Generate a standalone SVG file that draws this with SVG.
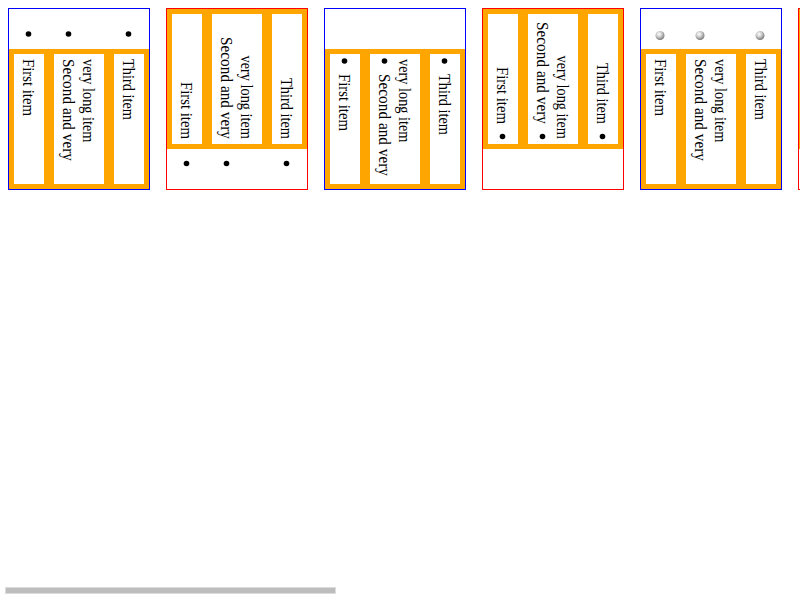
<svg xmlns="http://www.w3.org/2000/svg" width="800" height="600" viewBox="0 0 800 600">
  <style>
    .frame-b { fill: none; stroke: #0000ff; stroke-width: 1; }
    .frame-r { fill: none; stroke: #ff0000; stroke-width: 1; }
    .band { fill: #ffa500; }
    .item { fill: #ffffff; }
    .disc { fill: #000000; }
    .ball { fill: url(#ballGrad); }
    text { font-family: "Liberation Serif", "Times New Roman", serif; font-size: 16px; fill: #000000; }
    .end { text-anchor: end; }
  </style>
  <defs>
    <radialGradient id="ballGrad" cx="0.4" cy="0.35" r="0.65">
      <stop offset="0" stop-color="#ffffff"/>
      <stop offset="0.5" stop-color="#c8c8c8"/>
      <stop offset="1" stop-color="#7a7a7a"/>
    </radialGradient>
  </defs>
  <rect width="800" height="600" fill="#ffffff"/>

  <!-- list 1: markers outside, top -->
  <g id="list1">
    <rect class="band" x="9" y="49" width="140" height="140"/>
    <rect class="item" x="14" y="54" width="30" height="130"/>
    <rect class="item" x="54" y="54" width="50" height="130"/>
    <rect class="item" x="114" y="54" width="30" height="130"/>
    <circle class="disc" cx="28.5" cy="34" r="2.8"/>
    <circle class="disc" cx="68.5" cy="34" r="2.8"/>
    <circle class="disc" cx="128.5" cy="34" r="2.8"/>
    <text transform="translate(22.5,59) rotate(90)" textLength="57" lengthAdjust="spacingAndGlyphs">First item</text>
    <text transform="translate(62.5,59) rotate(90)" textLength="102" lengthAdjust="spacingAndGlyphs">Second and very</text>
    <text transform="translate(82.5,59) rotate(90)" textLength="83.5" lengthAdjust="spacingAndGlyphs">very long item</text>
    <text transform="translate(122.5,59) rotate(90)" textLength="61" lengthAdjust="spacingAndGlyphs">Third item</text>
    <rect class="frame-b" x="8.5" y="8.5" width="141" height="181"/>
  </g>

  <!-- list 2: markers outside, bottom -->
  <g id="list2">
    <rect class="band" x="167" y="9" width="140" height="140"/>
    <rect class="item" x="172" y="14" width="30" height="130"/>
    <rect class="item" x="212" y="14" width="50" height="130"/>
    <rect class="item" x="272" y="14" width="30" height="130"/>
    <circle class="disc" cx="186.5" cy="163.5" r="2.8"/>
    <circle class="disc" cx="226.5" cy="163.5" r="2.8"/>
    <circle class="disc" cx="286.5" cy="163.5" r="2.8"/>
    <text class="end" transform="translate(180.5,139) rotate(90)" textLength="57" lengthAdjust="spacingAndGlyphs">First item</text>
    <text class="end" transform="translate(220.5,139) rotate(90)" textLength="102" lengthAdjust="spacingAndGlyphs">Second and very</text>
    <text class="end" transform="translate(240.5,139) rotate(90)" textLength="83.5" lengthAdjust="spacingAndGlyphs">very long item</text>
    <text class="end" transform="translate(280.5,139) rotate(90)" textLength="61" lengthAdjust="spacingAndGlyphs">Third item</text>
    <rect class="frame-r" x="166.5" y="8.5" width="141" height="181"/>
  </g>

  <!-- list 3: markers inside, top -->
  <g id="list3">
    <rect class="band" x="325" y="49" width="140" height="140"/>
    <rect class="item" x="330" y="54" width="30" height="130"/>
    <rect class="item" x="370" y="54" width="50" height="130"/>
    <rect class="item" x="430" y="54" width="30" height="130"/>
    <circle class="disc" cx="344.5" cy="61" r="2.8"/>
    <circle class="disc" cx="384.5" cy="61" r="2.8"/>
    <circle class="disc" cx="444.5" cy="61" r="2.8"/>
    <text transform="translate(338.5,74) rotate(90)" textLength="57" lengthAdjust="spacingAndGlyphs">First item</text>
    <text transform="translate(378.5,74) rotate(90)" textLength="102" lengthAdjust="spacingAndGlyphs">Second and very</text>
    <text transform="translate(398.5,59) rotate(90)" textLength="83.5" lengthAdjust="spacingAndGlyphs">very long item</text>
    <text transform="translate(438.5,74) rotate(90)" textLength="61" lengthAdjust="spacingAndGlyphs">Third item</text>
    <rect class="frame-b" x="324.5" y="8.5" width="141" height="181"/>
  </g>

  <!-- list 4: markers inside, bottom -->
  <g id="list4">
    <rect class="band" x="483" y="9" width="140" height="140"/>
    <rect class="item" x="488" y="14" width="30" height="130"/>
    <rect class="item" x="528" y="14" width="50" height="130"/>
    <rect class="item" x="588" y="14" width="30" height="130"/>
    <circle class="disc" cx="502.5" cy="136.5" r="2.8"/>
    <circle class="disc" cx="542.5" cy="136.5" r="2.8"/>
    <circle class="disc" cx="602.5" cy="136.5" r="2.8"/>
    <text class="end" transform="translate(496.5,124) rotate(90)" textLength="57" lengthAdjust="spacingAndGlyphs">First item</text>
    <text class="end" transform="translate(536.5,124) rotate(90)" textLength="102" lengthAdjust="spacingAndGlyphs">Second and very</text>
    <text class="end" transform="translate(556.5,139) rotate(90)" textLength="83.5" lengthAdjust="spacingAndGlyphs">very long item</text>
    <text class="end" transform="translate(596.5,124) rotate(90)" textLength="61" lengthAdjust="spacingAndGlyphs">Third item</text>
    <rect class="frame-r" x="482.5" y="8.5" width="141" height="181"/>
  </g>

  <!-- list 5: image markers outside, top -->
  <g id="list5">
    <rect class="band" x="641" y="49" width="140" height="140"/>
    <rect class="item" x="646" y="54" width="30" height="130"/>
    <rect class="item" x="686" y="54" width="50" height="130"/>
    <rect class="item" x="746" y="54" width="30" height="130"/>
    <circle class="ball" cx="660" cy="35.5" r="4.5"/>
    <circle class="ball" cx="700" cy="35.5" r="4.5"/>
    <circle class="ball" cx="760" cy="35.5" r="4.5"/>
    <text transform="translate(654.5,59) rotate(90)" textLength="57" lengthAdjust="spacingAndGlyphs">First item</text>
    <text transform="translate(694.5,59) rotate(90)" textLength="102" lengthAdjust="spacingAndGlyphs">Second and very</text>
    <text transform="translate(714.5,59) rotate(90)" textLength="83.5" lengthAdjust="spacingAndGlyphs">very long item</text>
    <text transform="translate(754.5,59) rotate(90)" textLength="61" lengthAdjust="spacingAndGlyphs">Third item</text>
    <rect class="frame-b" x="640.5" y="8.5" width="141" height="181"/>
  </g>

  <!-- list 6: cut off at the right edge -->
  <g id="list6">
    <rect class="band" x="799" y="9" width="140" height="140"/>
    <rect class="frame-r" x="798.5" y="8.5" width="141" height="181"/>
  </g>

  <!-- horizontal scrollbar thumb -->
  <g id="scrollbar">
    <rect x="5.5" y="587.5" width="330" height="6" fill="#bdbdbd" stroke="#dcdcdc" stroke-width="1"/>
  </g>
</svg>
